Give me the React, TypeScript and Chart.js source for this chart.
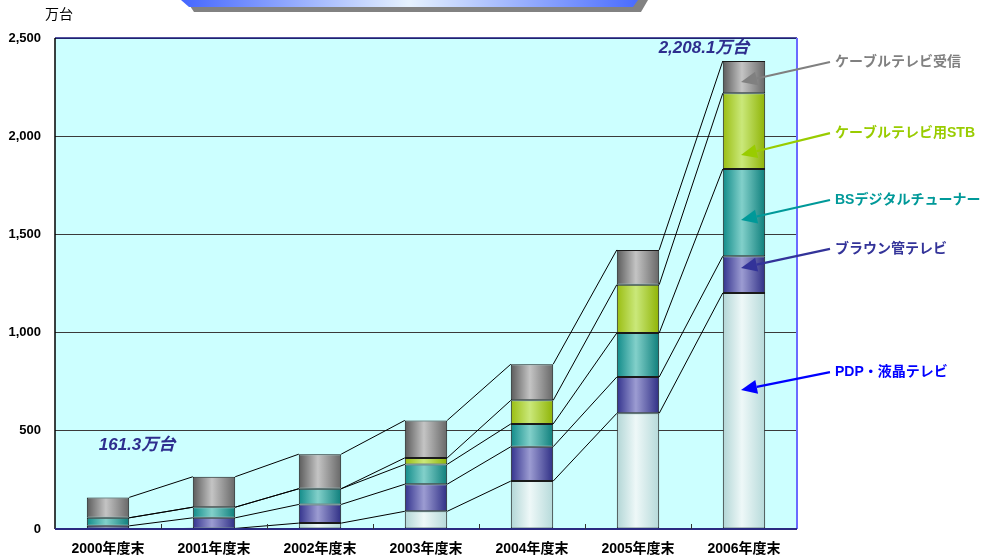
import React, { useEffect, useRef } from "react";
import { Chart, registerables } from "chart.js";

Chart.register(...registerables);

// ---- data ----
const categories = ["2000年度末", "2001年度末", "2002年度末", "2003年度末", "2004年度末", "2005年度末", "2006年度末"];
const pdpLcd = [0, 3, 30, 90, 244, 589, 1202];
const crtTv = [16, 54, 95, 138, 175, 185, 187];
const bsTuner = [41, 54, 80, 101, 116, 224, 444];
const cableStb = [0, 0, 0, 33, 120, 246, 386];
const cableRecv = [104, 155, 176, 191, 184, 177, 164];
const seriesNames = ["PDP・液晶テレビ", "ブラウン管テレビ", "BSデジタルチューナー", "ケーブルテレビ用STB", "ケーブルテレビ受信"];
const yTicks = [0, 500, 1000, 1500, 2000, 2500];
const unitLabel = "万台";
const firstTotalLabel = "161.3万台";
const lastTotalLabel = "2,208.1万台";

// annotation label / arrow-tip positions in data units
const annotationLabelValues = [799, 1426, 1675, 2016, 2378];
const annotationTipValues = [708, 1329, 1573, 1904, 2276];
const annotationColors = ["#0000ff", "#333399", "#009999", "#99cc00", "#808080"];

const gradStops: string[][] = [
  ["#b2d6d6", "#eef8f8", "#b6dada"],
  ["#34348e", "#9c9cd2", "#303086"],
  ["#128c8a", "#82d0ca", "#0f7f7c"],
  ["#9abe12", "#cae87a", "#8fb406"],
  ["#5c5c5c", "#c4c4c4", "#686868"],
];

const FONT = '"Liberation Sans", "Noto Sans CJK JP", sans-serif';

const makeGrad = (stops: string[]) => (ctx: any) => {
  const chart = ctx.chart;
  const xs = chart.scales && chart.scales.x;
  if (!xs || ctx.dataIndex === undefined || !chart.chartArea) return stops[1];
  const cx = xs.getPixelForValue(ctx.dataIndex);
  const half = 21;
  const g = chart.ctx.createLinearGradient(cx - half, 0, cx + half, 0);
  g.addColorStop(0, stops[0]);
  g.addColorStop(0.45, stops[1]);
  g.addColorStop(1, stops[2]);
  return g;
};

function arrow(c: CanvasRenderingContext2D, x1: number, y1: number, x2: number, y2: number, color: string) {
  const ang = Math.atan2(y2 - y1, x2 - x1);
  const headLen = 16;
  const headW = 7;
  const bx = x2 - headLen * Math.cos(ang);
  const by = y2 - headLen * Math.sin(ang);
  c.save();
  c.strokeStyle = color;
  c.fillStyle = color;
  c.lineWidth = 2.2;
  c.beginPath();
  c.moveTo(x1, y1);
  c.lineTo(bx, by);
  c.stroke();
  c.beginPath();
  c.moveTo(x2, y2);
  c.lineTo(bx + headW * Math.sin(ang), by - headW * Math.cos(ang));
  c.lineTo(bx - headW * Math.sin(ang), by + headW * Math.cos(ang));
  c.closePath();
  c.fill();
  c.restore();
}

const decorPlugin = {
  id: "decor",
  beforeDraw(chart: any) {
    const { ctx, chartArea: a } = chart;
    ctx.save();
    ctx.fillStyle = "#ccffff";
    ctx.fillRect(a.left, a.top, a.right - a.left, a.bottom - a.top);
    ctx.restore();
  },
  beforeDatasetsDraw(chart: any) {
    const ctx = chart.ctx;
    ctx.save();
    ctx.strokeStyle = "#000000";
    ctx.lineWidth = 1;
    const n = chart.data.datasets.length;
    for (let i = 0; i < n; i++) {
      const meta = chart.getDatasetMeta(i);
      for (let j = 0; j < meta.data.length - 1; j++) {
        const a = meta.data[j];
        const b = meta.data[j + 1];
        ctx.beginPath();
        ctx.moveTo(a.x + a.width / 2, a.y);
        ctx.lineTo(b.x - b.width / 2, b.y);
        ctx.stroke();
      }
    }
    ctx.restore();
  },
  afterDraw(chart: any) {
    const { ctx, chartArea: a, scales } = chart;
    const xs = scales.x;
    const ys = scales.y;
    ctx.save();
    // borders
    ctx.lineWidth = 1.5;
    ctx.strokeStyle = "#1a1a80";
    ctx.beginPath();
    ctx.moveTo(a.left, a.top);
    ctx.lineTo(a.right, a.top);
    ctx.stroke();
    ctx.strokeStyle = "#6a6aff";
    ctx.lineWidth = 2;
    ctx.beginPath();
    ctx.moveTo(a.right, a.top);
    ctx.lineTo(a.right, a.bottom);
    ctx.stroke();
    ctx.strokeStyle = "#000000";
    ctx.lineWidth = 1.5;
    ctx.beginPath();
    ctx.moveTo(a.left, a.top);
    ctx.lineTo(a.left, a.bottom);
    ctx.stroke();
    ctx.strokeStyle = "#2a2a80";
    ctx.lineWidth = 2;
    ctx.beginPath();
    ctx.moveTo(a.left, a.bottom);
    ctx.lineTo(a.right, a.bottom);
    ctx.stroke();
    // category boundary ticks
    ctx.strokeStyle = "#333333";
    ctx.lineWidth = 1;
    for (let j = 1; j < categories.length; j++) {
      const x = Math.round((xs.getPixelForValue(j - 1) + xs.getPixelForValue(j)) / 2) + 0.5;
      ctx.beginPath();
      ctx.moveTo(x, a.bottom - 5);
      ctx.lineTo(x, a.bottom);
      ctx.stroke();
    }

    // banner at top (cropped title box)
    ctx.fillStyle = "#828282";
    ctx.beginPath();
    ctx.moveTo(186, 0);
    ctx.lineTo(648, 0);
    ctx.lineTo(641, 12);
    ctx.lineTo(194, 12);
    ctx.closePath();
    ctx.fill();
    const bg = ctx.createLinearGradient(181, 0, 637, 0);
    bg.addColorStop(0, "#4466ff");
    bg.addColorStop(0.5, "#e6f2ff");
    bg.addColorStop(1, "#4a6cff");
    ctx.fillStyle = bg;
    ctx.beginPath();
    ctx.moveTo(181, 0);
    ctx.lineTo(638, 0);
    ctx.lineTo(633, 7);
    ctx.lineTo(189, 7);
    ctx.closePath();
    ctx.fill();

    // unit label
    ctx.fillStyle = "#000000";
    ctx.font = `14px ${FONT}`;
    ctx.textAlign = "left";
    ctx.textBaseline = "middle";
    ctx.fillText(unitLabel, 45, 15);

    // total labels
    ctx.fillStyle = "#2e2e8e";
    ctx.font = `italic bold 17px ${FONT}`;
    ctx.textAlign = "center";
    ctx.fillText(firstTotalLabel, xs.getPixelForValue(0) + 29, ys.getPixelForValue(428));
    ctx.fillText(lastTotalLabel, xs.getPixelForValue(categories.length - 1) - 40, ys.getPixelForValue(2449));

    // series annotations with arrows
    const lastX = xs.getPixelForValue(categories.length - 1);
    ctx.font = `bold 14px ${FONT}`;
    ctx.textAlign = "left";
    for (let i = 0; i < seriesNames.length; i++) {
      const ly = ys.getPixelForValue(annotationLabelValues[i]);
      const ty = ys.getPixelForValue(annotationTipValues[i]);
      arrow(ctx, a.right + 33, ly, lastX - 3, ty, annotationColors[i]);
      ctx.fillStyle = annotationColors[i];
      ctx.fillText(seriesNames[i], a.right + 38, ly);
    }
    ctx.restore();
  },
};

export default function App() {
  const ref = useRef<HTMLCanvasElement | null>(null);
  useEffect(() => {
    document.body.style.margin = "0";
    const canvas = ref.current;
    if (!canvas) return;
    const series = [pdpLcd, crtTv, bsTuner, cableStb, cableRecv];
    const chart = new Chart(canvas, {
      type: "bar",
      data: {
        labels: categories,
        datasets: series.map((d, i) => ({
          label: seriesNames[i],
          data: d,
          backgroundColor: makeGrad(gradStops[i]),
          borderColor: "#1a1a1a",
          borderWidth: 1,
          borderSkipped: false,
          categoryPercentage: 1,
          barPercentage: 0.4,
        })),
      },
      options: {
        responsive: false,
        animation: false,
        devicePixelRatio: 1,
        layout: { padding: { top: 38, right: 192, left: 0, bottom: 0 } },
        plugins: { legend: { display: false }, tooltip: { enabled: false } },
        scales: {
          x: {
            stacked: true,
            grid: { display: false, drawTicks: false },
            border: { display: false },
            ticks: { color: "#000000", font: { family: FONT, size: 14, weight: "bold" }, padding: 12, maxRotation: 0 },
            afterFit: (s: any) => { s.height = 30; },
          },
          y: {
            stacked: true,
            min: 0,
            max: 2500,
            afterBuildTicks: (s: any) => { s.ticks = yTicks.map((v) => ({ value: v })); },
            grid: { color: "#3a3a3a", lineWidth: 1, drawTicks: false },
            border: { display: false },
            ticks: {
              color: "#000000",
              font: { family: FONT, size: 13, weight: "bold" },
              padding: 14,
              callback: (v: any) => Number(v).toLocaleString("en-US"),
            },
            afterFit: (s: any) => { s.width = 55; },
          },
        },
      },
      plugins: [decorPlugin],
    } as any);
    return () => chart.destroy();
  }, []);
  return <canvas ref={ref} width={989} height={559} style={{ display: "block", width: 989, height: 559 }} />;
}
